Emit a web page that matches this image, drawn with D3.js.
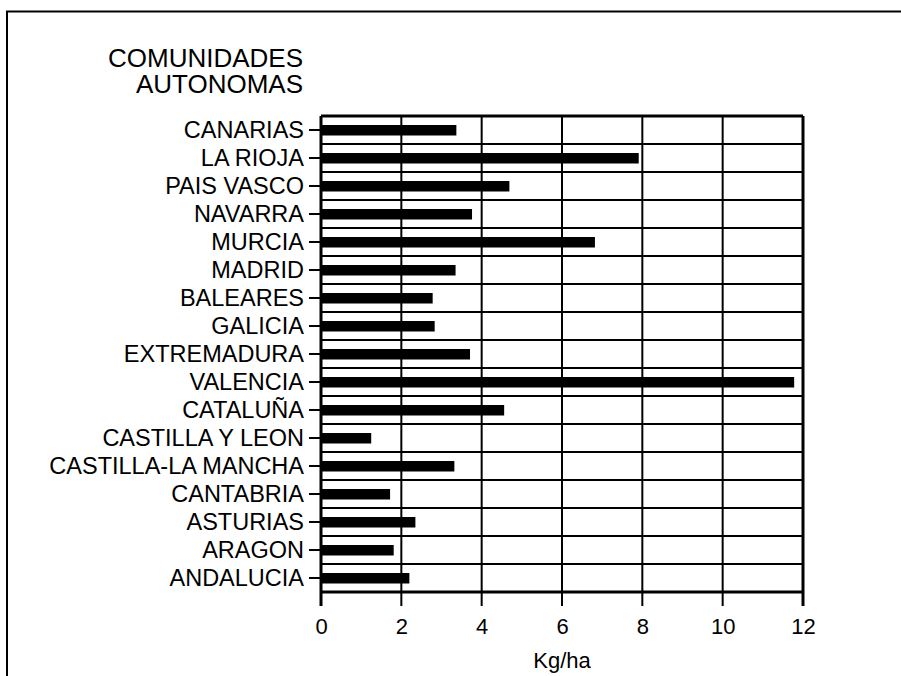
<!DOCTYPE html>
<html>
<head>
<meta charset="utf-8">
<script src="https://cdn.jsdelivr.net/npm/d3@7"></script>
<style>
  body { margin: 0; background: #fff; }
  svg { display: block; font-family: "Liberation Sans", Arial, Helvetica, sans-serif; }
</style>
</head>
<body>
<div id="chart"></div>
<script>
// comunidades, top to bottom as printed
const categories = ["CANARIAS", "LA RIOJA", "PAIS VASCO", "NAVARRA", "MURCIA", "MADRID",
  "BALEARES", "GALICIA", "EXTREMADURA", "VALENCIA", "CATALUÑA", "CASTILLA Y LEON",
  "CASTILLA-LA MANCHA", "CANTABRIA", "ASTURIAS", "ARAGON", "ANDALUCIA"];
const values = [3.37, 7.91, 4.69, 3.76, 6.82, 3.35, 2.78, 2.83, 3.71, 11.78, 4.56, 1.25,
  3.32, 1.72, 2.35, 1.81, 2.2];
const xTicks = [0, 2, 4, 6, 8, 10, 12];
const titleLines = ["COMUNIDADES", "AUTONOMAS"];
const xLabel = "Kg/ha";

const width = 901, height = 676;
const margin = {top: 116, right: 98, bottom: 84, left: 321};
const w = width - margin.left - margin.right;
const h = height - margin.top - margin.bottom;

const data = categories.map((c, i) => ({name: c, value: values[i]}));

const x = d3.scaleLinear().domain([0, 12]).range([0, w]);
const y = d3.scaleBand().domain(categories).range([0, h]).padding(0);

const svg = d3.select("#chart").append("svg")
    .attr("width", width)
    .attr("height", height);

// page frame (top + left only)
svg.append("path")
    .attr("d", `M7,${height} L7,11.5 L${width},11.5`)
    .attr("fill", "none")
    .attr("stroke", "#000")
    .attr("stroke-width", 2);

const g = svg.append("g")
    .attr("transform", `translate(${margin.left},${margin.top})`);

// horizontal row separators
g.append("g")
    .selectAll("line")
    .data(d3.range(categories.length + 1))
    .join("line")
    .attr("x1", 0)
    .attr("x2", w)
    .attr("y1", i => i * y.step())
    .attr("y2", i => i * y.step())
    .attr("stroke", "#000")
    .attr("stroke-width", i => (i == 0 || i == categories.length) ? 3 : 1.8);

// vertical grid, running past the bottom as ticks
g.append("g")
    .selectAll("line")
    .data(xTicks)
    .join("line")
    .attr("x1", d => x(d))
    .attr("x2", d => x(d))
    .attr("y1", 0)
    .attr("y2", h + 14)
    .attr("stroke", "#000")
    .attr("stroke-width", d => (d == 0 || d == 12) ? 3 : 2);

// bars
g.append("g")
    .selectAll("rect")
    .data(data)
    .join("rect")
    .attr("x", x(0))
    .attr("y", d => y(d.name) + y.bandwidth() / 2 - 5)
    .attr("width", d => x(d.value) - x(0))
    .attr("height", 10.5)
    .attr("fill", "#000");

// x axis labels
const xAxis = g.append("g")
    .attr("transform", `translate(0,${h})`)
    .call(d3.axisBottom(x).tickValues(xTicks).tickSize(14).tickPadding(12));
xAxis.select(".domain").remove();
xAxis.selectAll(".tick line").remove();
xAxis.selectAll("text")
    .attr("font-size", 22)
    .attr("fill", "#000")
    .attr("font-family", "Liberation Sans, Arial, sans-serif");

// y axis: short dash + names
const yAxis = g.append("g")
    .call(d3.axisLeft(y).tickSize(12).tickPadding(5));
yAxis.select(".domain").remove();
yAxis.selectAll(".tick line")
    .attr("stroke", "#000")
    .attr("stroke-width", 2);
yAxis.selectAll("text")
    .attr("font-size", 23.5)
    .attr("fill", "#000")
    .attr("font-family", "Liberation Sans, Arial, sans-serif");

// title block, right aligned with the names
svg.append("g")
    .selectAll("text")
    .data(titleLines)
    .join("text")
    .attr("x", margin.left - 18)
    .attr("y", (d, i) => 67 + i * 26)
    .attr("text-anchor", "end")
    .attr("font-size", 26)
    .text(d => d);

// unit label
svg.append("text")
    .attr("x", margin.left + w / 2)
    .attr("y", 668)
    .attr("text-anchor", "middle")
    .attr("font-size", 22)
    .text(xLabel);
</script>
</body>
</html>
